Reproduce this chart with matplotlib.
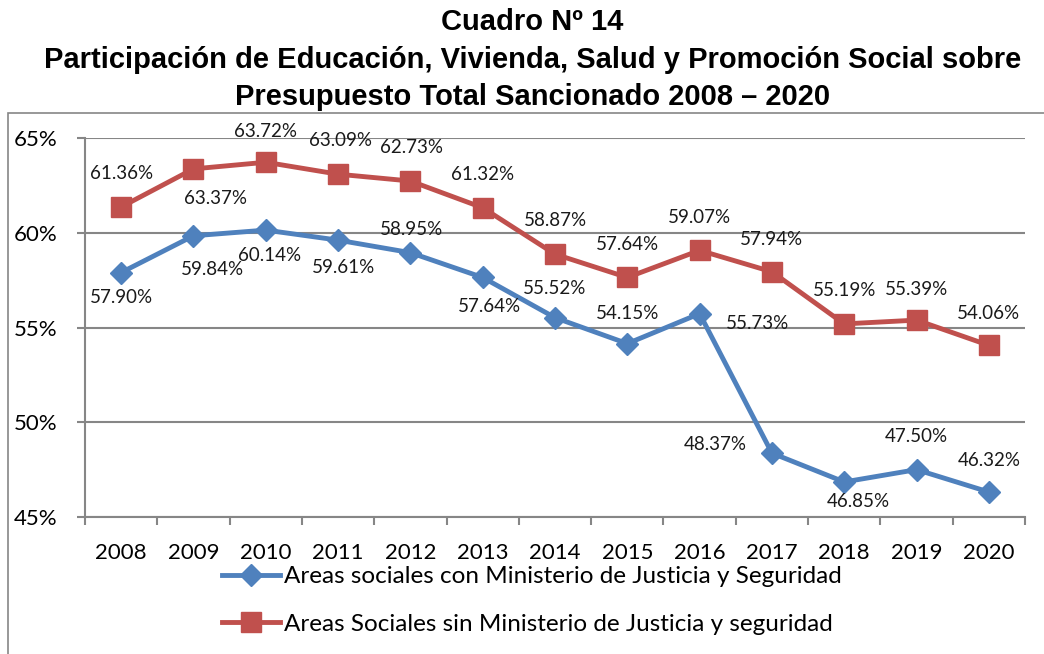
import matplotlib
matplotlib.use("Agg")
import matplotlib.pyplot as plt
from matplotlib.patches import Rectangle

years = ["2008", "2009", "2010", "2011", "2012", "2013", "2014",
         "2015", "2016", "2017", "2018", "2019", "2020"]
con_mjs = [57.90, 59.84, 60.14, 59.61, 58.95, 57.64, 55.52,
           54.15, 55.73, 48.37, 46.85, 47.50, 46.32]
sin_mjs = [61.36, 63.37, 63.72, 63.09, 62.73, 61.32, 58.87,
           57.64, 59.07, 57.94, 55.19, 55.39, 54.06]
y_ticks = [45, 50, 55, 60, 65]

label_con = "Areas sociales con Ministerio de Justicia y Seguridad"
label_sin = "Areas Sociales sin Ministerio de Justicia y seguridad"

# label offsets in points (dx, dy), chosen to mimic the original placement
off_con = [(0, -18), (14, -24), (3, -18), (4, -20), (1, 17), (5, -21), (0, 21),
           (0, 22), (42, -7), (-41, 6), (10, -14), (0, 24), (0, 23)]
off_sin = [(0, 24), (16, -21), (0, 22), (2, 24), (1, 24), (0, 24), (0, 24),
           (0, 24), (0, 24), (0, 23), (0, 24), (0, 22), (0, 23)]

blue = "#4F81BD"
red = "#C0504D"
grid_c = "#868686"
body_font = "Lato"
title_font = "Liberation Sans"

fig = plt.figure(figsize=(10.44, 6.54), dpi=100)
fig.patch.set_facecolor("white")

# outer chart border (cut off at right/bottom like the original)
fig.patches.append(Rectangle((8 / 1044, -0.1), 1.2, (654 - 113) / 654 + 0.1,
                             transform=fig.transFigure, fill=False,
                             edgecolor=grid_c, linewidth=1.2))

titles = ["Cuadro Nº 14",
          "Participación de Educación, Vivienda, Salud y Promoción Social sobre",
          "Presupuesto Total Sancionado 2008 – 2020"]
for ty, t in zip([22, 60, 97], titles):
    fig.text(0.51, 1 - ty / 654, t, ha="center", va="center",
             fontsize=21, fontweight="bold", family=title_font)

ax = fig.add_axes([85 / 1044, 1 - 517 / 654, 940 / 1044, 379 / 654])
x = list(range(len(years)))

ax.plot(x, con_mjs, color=blue, lw=3.5, marker="D", ms=11, label=label_con,
        zorder=3)
ax.plot(x, sin_mjs, color=red, lw=3.5, marker="s", ms=14, label=label_sin,
        zorder=3)

for xi, v, (dx, dy) in zip(x, con_mjs, off_con):
    ax.annotate(f"{v:.2f}%", (xi, v), xytext=(dx, dy), textcoords="offset points",
                ha="center", va="center", fontsize=13.5, family=body_font,
                color="#1a1a1a")
for xi, v, (dx, dy) in zip(x, sin_mjs, off_sin):
    ax.annotate(f"{v:.2f}%", (xi, v), xytext=(dx, dy), textcoords="offset points",
                ha="center", va="center", fontsize=13.5, family=body_font,
                color="#1a1a1a")

ax.set_xlim(-0.5, len(years) - 0.5)
ax.set_ylim(45, 65)
ax.set_yticks(y_ticks)
ax.set_yticklabels([f"{t}%" for t in y_ticks], family=body_font, fontsize=16)
ax.set_xticks(x)
ax.set_xticklabels(years, family=body_font, fontsize=16)
ax.set_xticks([i - 0.5 for i in range(len(years) + 1)], minor=True)
ax.tick_params(axis="x", which="major", length=0, pad=19)
ax.tick_params(axis="x", which="minor", length=6, width=1.5, color=grid_c,
               direction="out")
ax.tick_params(axis="y", length=6, width=1.5, color=grid_c, pad=14)

ax.grid(axis="y", color=grid_c, lw=1.5)
ax.set_axisbelow(True)
for s in ["top", "right"]:
    ax.spines[s].set_visible(False)
for s in ["left", "bottom"]:
    ax.spines[s].set_color(grid_c)
    ax.spines[s].set_linewidth(1.5)

fig.legend(loc="upper left", bbox_to_anchor=(222 / 1044, 1 - 566 / 654),
           frameon=False, prop={"family": body_font, "size": 17.5},
           handlelength=2.4, handletextpad=0.15, labelspacing=1.1,
           borderpad=0, borderaxespad=0)

fig.savefig("out.png", dpi=100)
